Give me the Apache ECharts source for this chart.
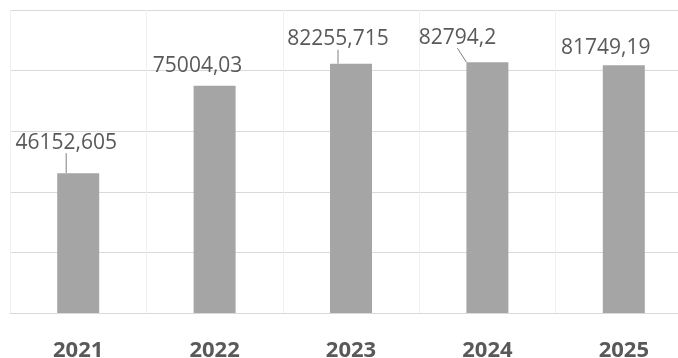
<!DOCTYPE html>
<html>
<head>
<meta charset="utf-8">
<script src="https://cdn.jsdelivr.net/npm/echarts@6/dist/echarts.min.js"></script>
<style>html,body{margin:0;padding:0;background:#fff}#c{width:678px;height:358px}</style>
</head>
<body>
<div id="c"></div>
<script>
var categories = ['2021', '2022', '2023', '2024', '2025'];
var values = [46152.605, 75004.03, 82255.715, 82794.2, 81749.19];

// label placement (style, not data)
var labelShift = [[-12, -15], [-17, -4], [-13, -9], [-30, -9], [-18, -2]];
var leaderShown = [true, false, true, true, false];

var chart = echarts.init(document.getElementById('c'));
chart.setOption({
  backgroundColor: '#ffffff',
  animation: false,
  grid: { left: 10, width: 682, top: 10, bottom: 45, outerBoundsMode: 'none', containLabel: false },
  xAxis: {
    type: 'category',
    data: categories,
    axisLine: { show: true, lineStyle: { color: '#d9d9d9', width: 1 } },
    axisTick: { show: false },
    splitLine: { show: true, lineStyle: { color: '#f0f0f0', width: 1 } },
    axisLabel: { color: '#595959', fontFamily: 'Open Sans', fontWeight: 'bold', fontSize: 22, margin: 27 }
  },
  yAxis: {
    type: 'value', min: 0, max: 100000, interval: 20000,
    axisLabel: { show: false },
    axisLine: { show: false },
    axisTick: { show: false },
    splitLine: { lineStyle: { color: '#d9d9d9', width: 1 } }
  },
  series: [{
    type: 'bar',
    data: values.map(function (v, i) {
      return { value: v, labelLine: { show: leaderShown[i] } };
    }),
    barWidth: 42,
    itemStyle: { color: '#a5a5a5' },
    label: {
      show: true, position: 'top', distance: 5,
      color: '#595959', fontFamily: 'Open Sans', fontSize: 21,
      formatter: function (p) { return String(p.value).replace('.', ','); }
    },
    labelLine: { show: true, lineStyle: { color: '#808080', width: 1 } },
    labelLayout: function (p) {
      var s = labelShift[p.dataIndex];
      return { dx: s[0], dy: s[1] };
    }
  }]
});
</script>
</body>
</html>
